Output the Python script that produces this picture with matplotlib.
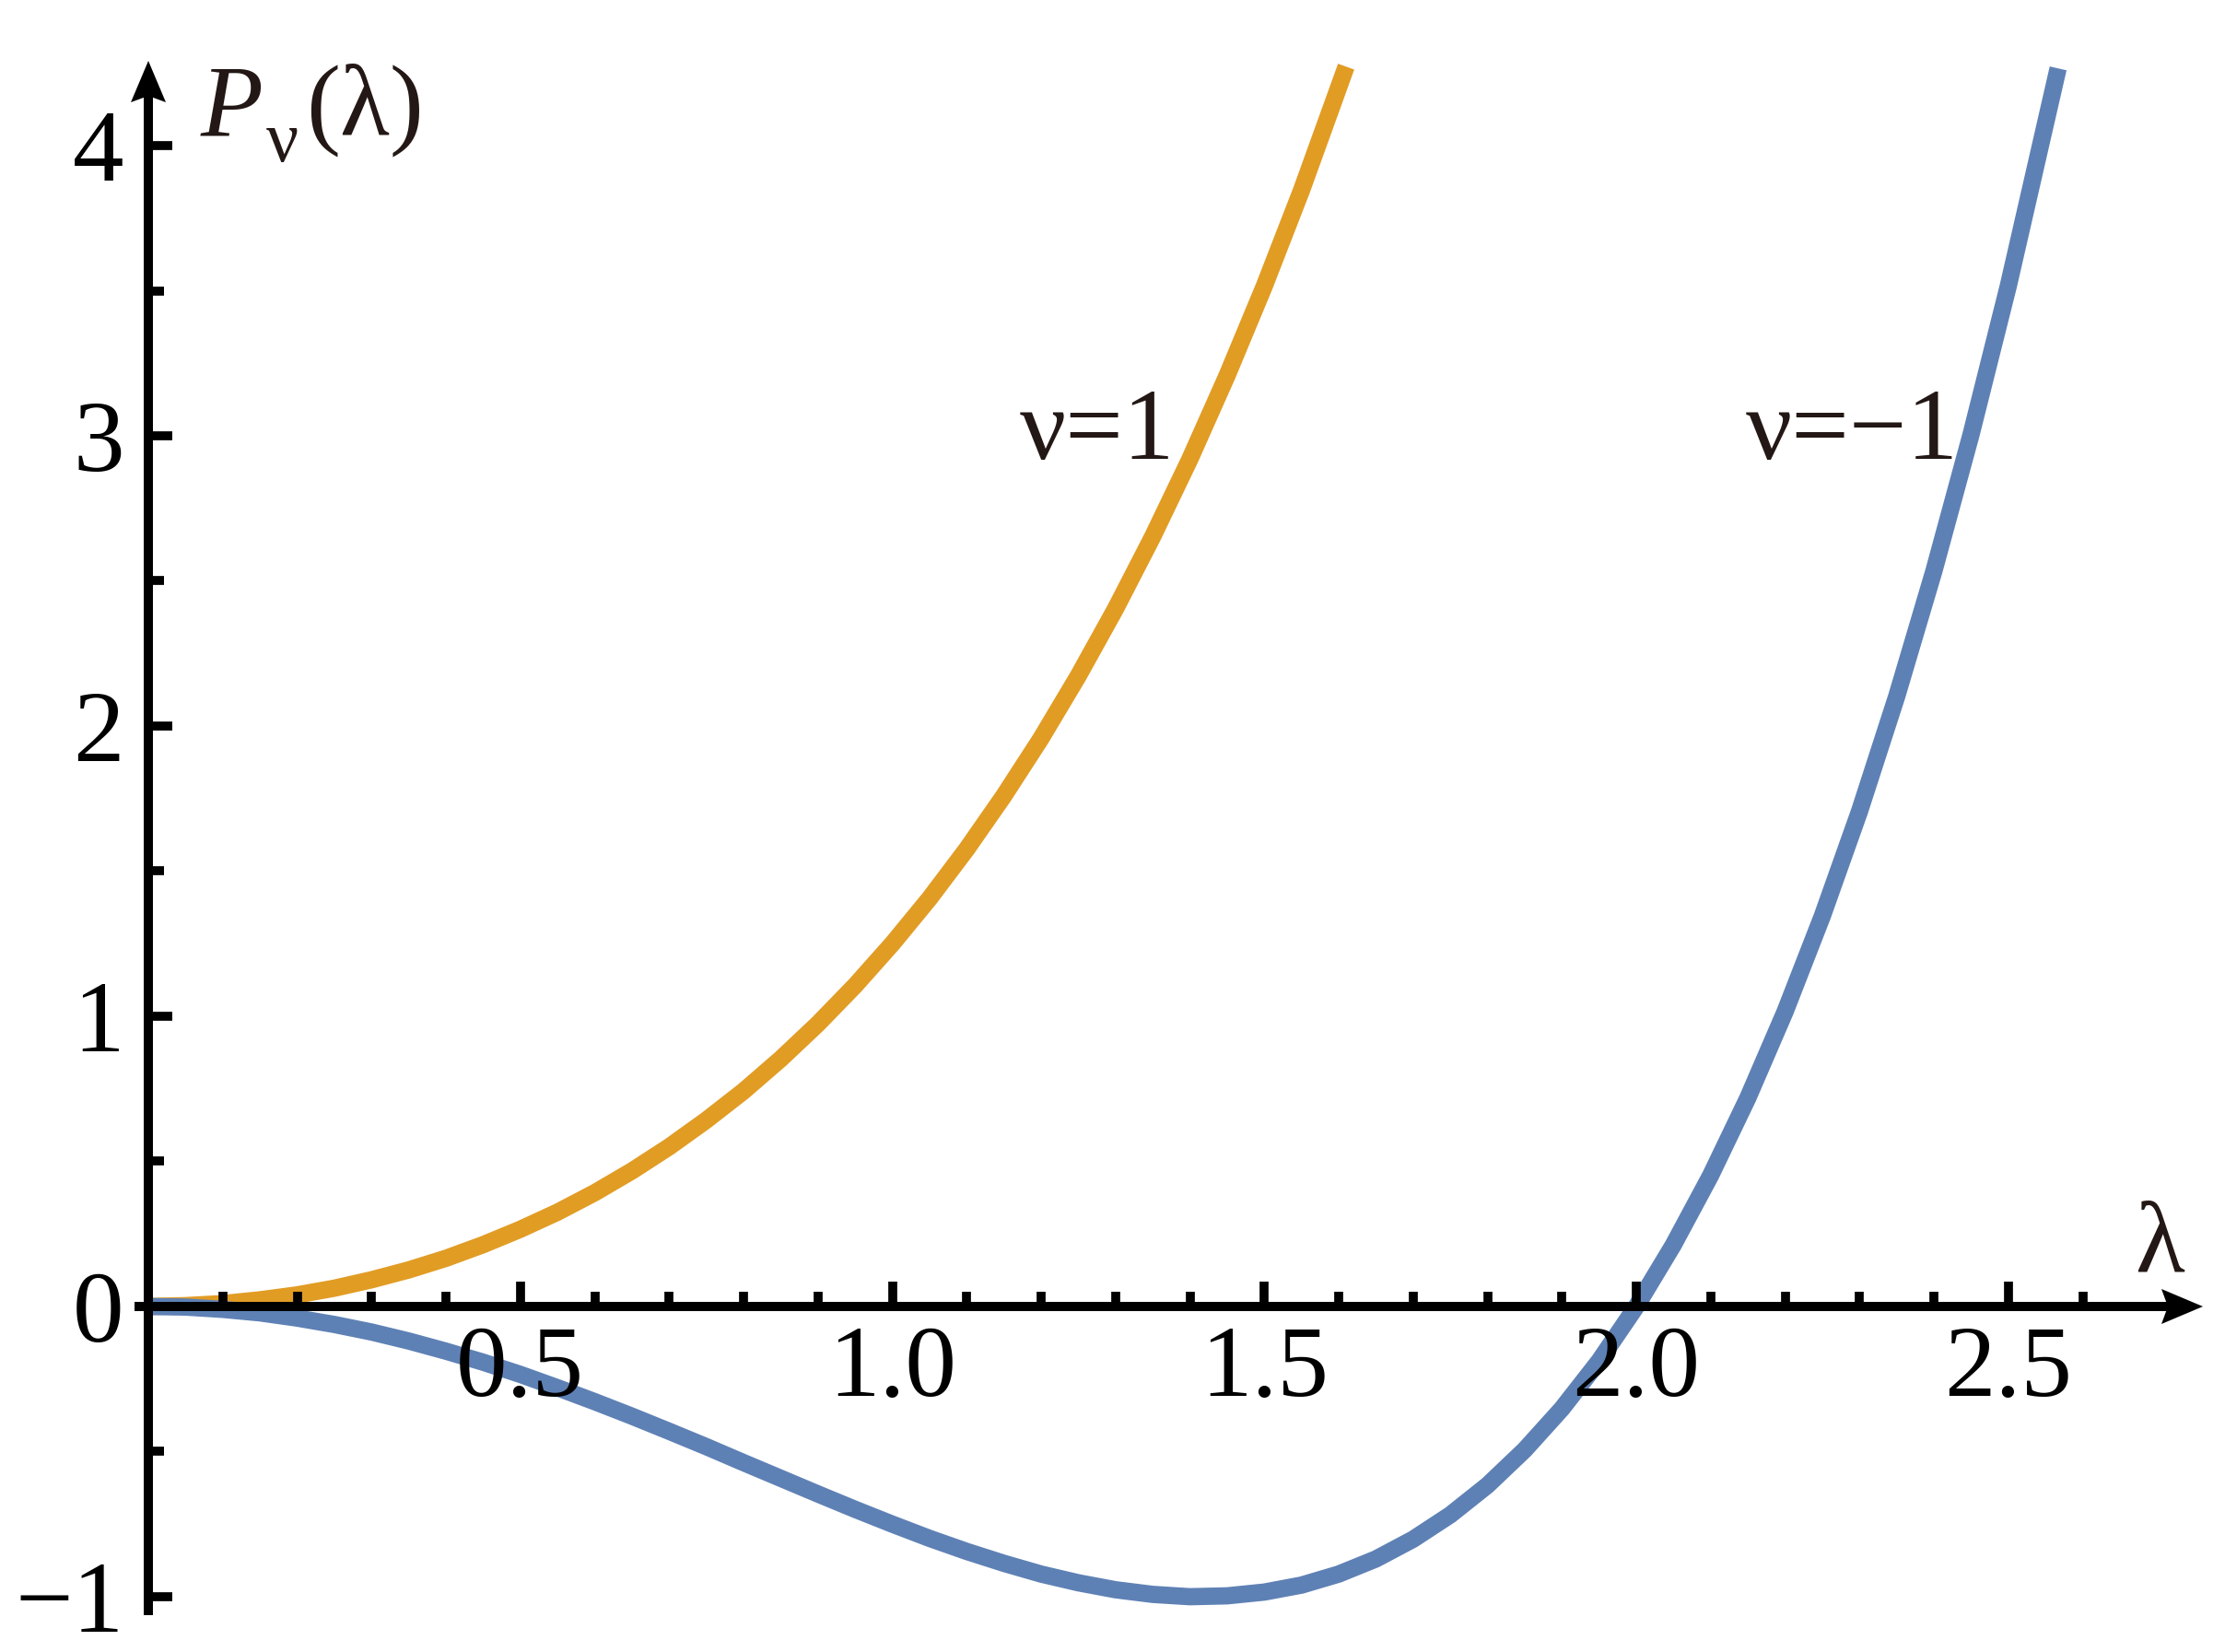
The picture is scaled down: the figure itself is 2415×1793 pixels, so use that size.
import matplotlib
matplotlib.use('Agg')
import matplotlib.pyplot as plt
from matplotlib.patches import Polygon
from matplotlib.ticker import FixedLocator, FixedFormatter

# 数据：P_nu(lambda) 曲线
lam_nu1 = [0, 0.05, 0.1, 0.15, 0.2, 0.25, 0.3, 0.35, 0.4, 0.45, 0.5, 0.55, 0.6, 0.65,
           0.7, 0.75, 0.8, 0.85, 0.9, 0.95, 1.0, 1.05, 1.1, 1.15, 1.2, 1.25, 1.3,
           1.35, 1.4, 1.45, 1.5, 1.55, 1.61]
p_nu1 = [0, 0.003, 0.010, 0.023, 0.040, 0.063, 0.092, 0.126, 0.166, 0.213, 0.266, 0.325,
         0.392, 0.467, 0.550, 0.642, 0.742, 0.853, 0.974, 1.106, 1.250, 1.406, 1.576,
         1.760, 1.958, 2.173, 2.404, 2.653, 2.920, 3.208, 3.516, 3.846, 4.272]

lam_nu_m1 = [0, 0.05, 0.1, 0.15, 0.2, 0.25, 0.3, 0.35, 0.4, 0.45, 0.5, 0.55, 0.6, 0.65,
             0.7, 0.75, 0.8, 0.85, 0.9, 0.95, 1.0, 1.05, 1.1, 1.15, 1.2, 1.25, 1.3,
             1.35, 1.4, 1.45, 1.5, 1.55, 1.6, 1.65, 1.7, 1.75, 1.8, 1.85, 1.9, 1.95,
             2.0, 2.05, 2.1, 2.15, 2.2, 2.25, 2.3, 2.35, 2.4, 2.45, 2.5, 2.567]
p_nu_m1 = [0, -0.002, -0.010, -0.022, -0.040, -0.062, -0.088, -0.119, -0.154, -0.192,
           -0.234, -0.280, -0.328, -0.378, -0.430, -0.483, -0.538, -0.592, -0.646,
           -0.699, -0.750, -0.799, -0.844, -0.885, -0.922, -0.952, -0.976, -0.992,
           -1.000, -0.997, -0.984, -0.960, -0.922, -0.870, -0.802, -0.718, -0.616,
           -0.494, -0.352, -0.188, 0.000, 0.213, 0.452, 0.719, 1.016, 1.345, 1.706,
           2.102, 2.534, 3.005, 3.516, 4.266]

x_major = [0.5, 1.0, 1.5, 2.0, 2.5]
x_major_labels = ['0.5', '1.0', '1.5', '2.0', '2.5']
x_minor = [0.1, 0.2, 0.3, 0.4, 0.6, 0.7, 0.8, 0.9, 1.1, 1.2, 1.3, 1.4, 1.6, 1.7,
           1.8, 1.9, 2.1, 2.2, 2.3, 2.4, 2.6]
y_major = [-1, 0, 1, 2, 3, 4]
y_major_labels = ['\u22121', '0', '1', '2', '3', '4']
y_minor = [-0.5, 0.5, 1.5, 2.5, 3.5]

orange = '#E19C24'
blue = '#5E81B5'
text_color = '#231815'

plt.rcParams['font.family'] = ['Liberation Serif', 'DejaVu Serif']

fig = plt.figure(figsize=(24.15, 17.93), dpi=100)
ax = fig.add_axes([0, 0, 1, 1])
ax.set_xlim(-0.1994, 2.7913)
ax.set_ylim(-1.1905, 4.5016)

ax.plot(lam_nu1, p_nu1, color=orange, lw=13.5, solid_capstyle='butt',
        solid_joinstyle='round', zorder=1)
ax.plot(lam_nu_m1, p_nu_m1, color=blue, lw=13.5, solid_capstyle='butt',
        solid_joinstyle='round', zorder=1)

# 坐标轴：过原点
for s in ['top', 'right']:
    ax.spines[s].set_visible(False)
for s in ['left', 'bottom']:
    ax.spines[s].set_position(('data', 0))
    ax.spines[s].set_linewidth(7.2)
    ax.spines[s].set_zorder(3)
ax.spines['bottom'].set_bounds(-0.012, 2.71)
ax.spines['left'].set_bounds(-1.048, 4.16)
ax.set_axisbelow(False)

ax.xaxis.set_major_locator(FixedLocator(x_major))
ax.xaxis.set_major_formatter(FixedFormatter(x_major_labels))
ax.xaxis.set_minor_locator(FixedLocator(x_minor))
ax.yaxis.set_major_locator(FixedLocator(y_major))
ax.yaxis.set_major_formatter(FixedFormatter(y_major_labels))
ax.yaxis.set_minor_locator(FixedLocator(y_minor))

ax.tick_params(axis='x', which='major', direction='in', length=19.4, width=7,
               pad=15, labelsize=80, colors='black')
ax.tick_params(axis='x', which='minor', direction='in', length=11.5, width=7)
ax.tick_params(axis='y', which='major', direction='in', length=19, width=7,
               pad=19, labelsize=80, colors='black')
ax.tick_params(axis='y', which='minor', direction='in', length=12.2, width=7)
ax.tick_params(top=False, right=False)

# -1 处的刻度较短
for t in ax.yaxis.get_major_ticks():
    if t.get_loc() == -1:
        t.tick1line.set_markersize(12.2)


# 箭头
def arrow_head(x, y, vertical):
    px, py = ax.transData.transform((x, y))
    if vertical:
        pts = [(0, 0), (-19, -45), (0, -38), (19, -45)]
    else:
        pts = [(0, 0), (-45, 19), (-38, 0), (-45, -19)]
    verts = ax.transData.inverted().transform([(px + a, py + b) for a, b in pts])
    ax.add_patch(Polygon(verts, closed=True, color='black', lw=0, zorder=4))


arrow_head(2.7616, 0, False)
arrow_head(0, 4.292, True)

ax.text(1.1715, 2.92, '\u03bd=1', fontsize=80, color=text_color, ha='left', va='baseline')
ax.text(2.147, 2.92, '\u03bd=\u22121', fontsize=80, color=text_color, ha='left', va='baseline')
ax.text(2.670, 0.12, '\u03bb', fontsize=80, color=text_color, ha='left', va='baseline')

# 纵轴标签 P_nu(lambda)
ax.text(0.0706, 4.038, 'P', fontsize=80, fontstyle='italic', color=text_color,
        ha='left', va='baseline')
ax.text(0.1585, 3.946, '\u03bd', fontsize=56, color=text_color, ha='left', va='baseline')
ax.text(0.2118, 4.038, '(\u03bb)', fontsize=80, color=text_color, ha='left', va='baseline')

fig.savefig('out.png', dpi=100, facecolor='white')
